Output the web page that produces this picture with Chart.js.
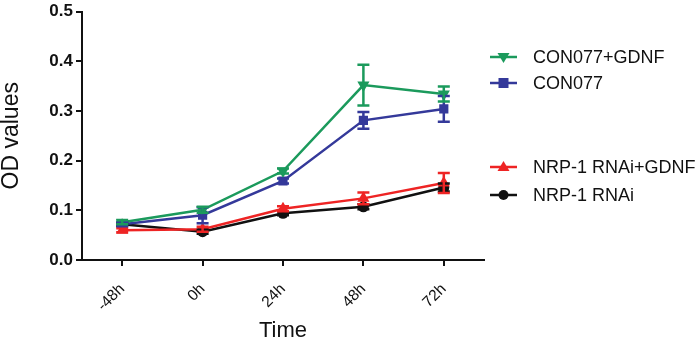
<!DOCTYPE html>
<html>
<head>
<meta charset="utf-8">
<script src="https://cdn.jsdelivr.net/npm/chart.js@4.4.1/dist/chart.umd.min.js"></script>
<style>
  html, body { margin: 0; padding: 0; background: #fff; }
  #wrap { width: 700px; height: 348px; }
</style>
</head>
<body>
<div id="wrap"><canvas id="odChart" width="700" height="348"></canvas></div>
<script>
// time points
const timeLabels = ['-48h', '0h', '24h', '48h', '72h'];

// mean OD values per group
const con077Gdnf = [0.076, 0.101, 0.179, 0.352, 0.334];
const con077 = [0.072, 0.090, 0.159, 0.281, 0.304];
const nrpGdnf = [0.060, 0.062, 0.103, 0.124, 0.155];
const nrp = [0.072, 0.057, 0.094, 0.107, 0.146];

// error bar half-heights
const con077GdnfErr = [0.004, 0.006, 0.005, 0.041, 0.015];
const con077Err = [0.004, 0.016, 0.005, 0.017, 0.026];
const nrpGdnfErr = [0.004, 0.005, 0.005, 0.012, 0.020];
const nrpErr = [0.003, 0.004, 0.004, 0.005, 0.008];

const yTicks = [0.0, 0.1, 0.2, 0.3, 0.4, 0.5];

const GREEN = '#1b9a5c';
const BLUE = '#34399a';
const RED = '#ee2424';
const BLACK = '#111111';
const FONT = '"Liberation Sans", Arial, sans-serif';

// vertical error bars with caps, drawn through the scales
const errorBars = {
    id: 'errorBars',
    afterDatasetsDraw(chart) {
        const ctx = chart.ctx;
        const yScale = chart.scales.y;
        for (let d = chart.data.datasets.length - 1; d >= 0; d--) {
            const ds = chart.data.datasets[d];
            const meta = chart.getDatasetMeta(d);
            ctx.save();
            ctx.strokeStyle = ds.borderColor;
            ctx.lineWidth = 2.5;
            meta.data.forEach((pt, i) => {
                const v = ds.data[i], e = ds.errors[i];
                const top = yScale.getPixelForValue(v + e);
                const bot = yScale.getPixelForValue(v - e);
                ctx.beginPath();
                ctx.moveTo(pt.x, top); ctx.lineTo(pt.x, bot);
                ctx.moveTo(pt.x - 6, top); ctx.lineTo(pt.x + 6, top);
                ctx.moveTo(pt.x - 6, bot); ctx.lineTo(pt.x + 6, bot);
                ctx.stroke();
            });
            ctx.restore();
        }
    }
};

// legend on the right, in two groups
const sideLegend = {
    id: 'sideLegend',
    afterDraw(chart) {
        const ctx = chart.ctx;
        const rows = [57, 83, 167, 195];
        chart.data.datasets.forEach((ds, i) => {
            const y = rows[i];
            const x0 = 490, x1 = 517, cx = 503.5;
            ctx.save();
            ctx.strokeStyle = ds.borderColor;
            ctx.fillStyle = ds.borderColor;
            ctx.lineWidth = 2.5;
            ctx.beginPath();
            ctx.moveTo(x0, y); ctx.lineTo(x1, y);
            ctx.stroke();
            ctx.beginPath();
            if (ds.pointStyle === 'rect') {
                ctx.rect(cx - 5, y - 5, 10, 10);
            } else if (ds.pointStyle === 'circle') {
                ctx.arc(cx, y, 5, 0, Math.PI * 2);
            } else if (ds.pointRotation === 180) {
                ctx.moveTo(cx - 6, y - 4); ctx.lineTo(cx + 6, y - 4); ctx.lineTo(cx, y + 6);
            } else {
                ctx.moveTo(cx - 6, y + 4); ctx.lineTo(cx + 6, y + 4); ctx.lineTo(cx, y - 6);
            }
            ctx.closePath();
            ctx.fill();
            ctx.fillStyle = '#111';
            ctx.font = '18px ' + FONT;
            ctx.textBaseline = 'middle';
            ctx.fillText(ds.label, 533, y + 1);
            ctx.restore();
        });
    }
};

function series(label, data, errors, color, style, rot, radius) {
    return {
        label: label,
        data: data,
        errors: errors,
        borderColor: color,
        backgroundColor: color,
        borderWidth: 2.5,
        pointStyle: style,
        pointRotation: rot,
        pointRadius: radius,
        pointBorderWidth: 0,
        tension: 0
    };
}

new Chart(document.getElementById('odChart'), {
    type: 'line',
    data: {
        labels: timeLabels,
        datasets: [
            series('CON077+GDNF', con077Gdnf, con077GdnfErr, GREEN, 'triangle', 180, 7),
            series('CON077', con077, con077Err, BLUE, 'rect', 0, 6.5),
            series('NRP-1 RNAi+GDNF', nrpGdnf, nrpGdnfErr, RED, 'triangle', 0, 7),
            series('NRP-1 RNAi', nrp, nrpErr, BLACK, 'circle', 0, 5.5)
        ]
    },
    options: {
        responsive: false,
        animation: false,
        layout: { padding: { top: 0, right: 216, left: 0, bottom: 0 } },
        plugins: {
            legend: { display: false },
            tooltip: { enabled: false }
        },
        scales: {
            x: {
                type: 'category',
                offset: true,
                grid: { offset: false, drawOnChartArea: false, color: '#111', lineWidth: 2, tickLength: 6 },
                border: { color: '#111', width: 2 },
                ticks: { color: '#111', font: { family: FONT, size: 15.5 }, minRotation: 45, maxRotation: 45, padding: 14 },
                title: { display: true, text: 'Time', color: '#111', font: { family: FONT, size: 22 }, padding: { top: 0, bottom: 4 } },
                afterFit(scale) { scale.height = 88; }
            },
            y: {
                min: 0,
                max: 0.5,
                afterBuildTicks(scale) { scale.ticks = yTicks.map(v => ({ value: v })); },
                grid: { drawOnChartArea: false, color: '#111', lineWidth: 2, tickLength: 6 },
                border: { color: '#111', width: 2 },
                ticks: {
                    color: '#111',
                    font: { family: FONT, size: 17, weight: 'bold', lineHeight: 1 },
                    padding: 3,
                    callback: v => Number(v).toFixed(1)
                },
                title: { display: true, text: 'OD values', color: '#111', font: { family: FONT, size: 23, lineHeight: 1 }, padding: 0 },
                afterFit(scale) { scale.width = 82; }
            }
        }
    },
    plugins: [errorBars, sideLegend]
});
</script>
</body>
</html>
